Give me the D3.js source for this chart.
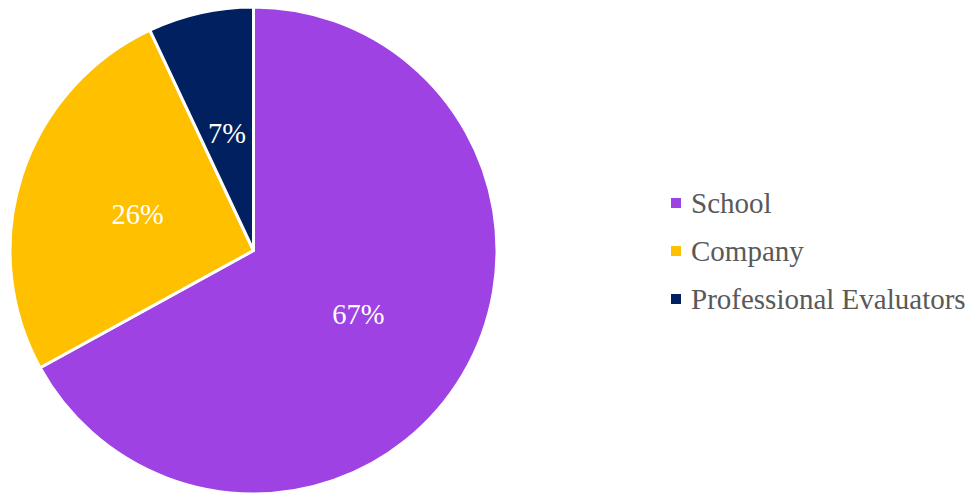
<!DOCTYPE html>
<html>
<head>
<meta charset="utf-8">
<script src="https://cdn.jsdelivr.net/npm/d3@7"></script>
</head>
<body style="margin:0">
<svg id="chart" width="975" height="494" font-family="Liberation Serif"></svg>
<script>
// Share of evaluations by source
const categories = ["School", "Company", "Professional Evaluators"];
const shares = [67, 26, 7];
const colors = ["#9e42e3", "#ffc000", "#002060"];

const cx = 253.5, cy = 250.5, radius = 243.5;

const svg = d3.select("#chart");

const data = categories.map((c, i) => ({ name: c, value: shares[i], color: colors[i] }));

const pie = d3.pie().value(d => d.value).sort(null);
const arc = d3.arc().innerRadius(0).outerRadius(radius);
const labelArc = d3.arc().innerRadius(radius * 0.5).outerRadius(radius * 0.5);

const g = svg.append("g").attr("transform", `translate(${cx},${cy})`);
const arcs = pie(data);

g.selectAll("path")
  .data(arcs)
  .join("path")
  .attr("d", arc)
  .attr("fill", d => d.data.color)
  .attr("stroke", "#fff")
  .attr("stroke-width", 3)
  .attr("stroke-linejoin", "round");

g.selectAll("text")
  .data(arcs)
  .join("text")
  .attr("transform", d => `translate(${labelArc.centroid(d)})`)
  .attr("text-anchor", "middle")
  .attr("dy", "0.4em")
  .attr("fill", "#fff")
  .style("font-family", '"Liberation Serif"')
  .style("font-size", "28.5px")
  .text(d => d.data.value + "%");

// Legend
const legend = svg.append("g").attr("transform", "translate(671,203)");
const rowH = 48;
const items = legend.selectAll("g")
  .data(data)
  .join("g")
  .attr("transform", (d, i) => `translate(0,${i * rowH})`);

items.append("rect")
  .attr("x", 0).attr("y", -5)
  .attr("width", 10).attr("height", 10)
  .attr("fill", d => d.color);

items.append("text")
  .attr("x", 20).attr("y", 10)
  .attr("fill", "#595959")
  .style("font-family", '"Liberation Serif"')
  .style("font-size", "29px")
  .text(d => d.name);
</script>
</body>
</html>
